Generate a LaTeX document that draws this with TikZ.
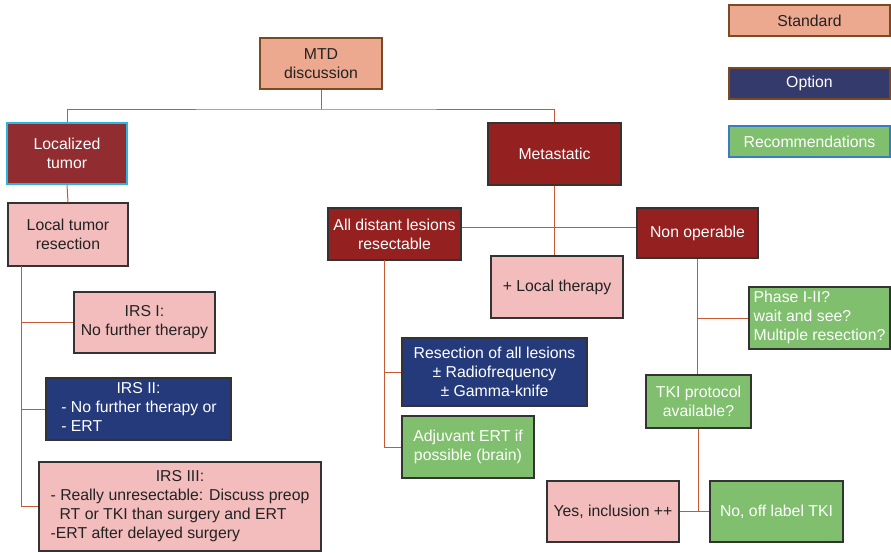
\documentclass[tikz,border=0pt]{standalone}
\usepackage{fontspec}
\setmainfont{Liberation Sans}
\definecolor{salmon}{HTML}{EDA98F}
\definecolor{pinkbox}{HTML}{F4BDBD}
\definecolor{darkred}{HTML}{952020}
\definecolor{locred}{HTML}{912D31}
\definecolor{navy}{HTML}{253A7A}
\definecolor{legnavy}{HTML}{353A6D}
\definecolor{greenbox}{HTML}{80BF6E}
\definecolor{boxline}{HTML}{333333}
\definecolor{brownline}{HTML}{7A4B22}
\definecolor{cyanline}{HTML}{2BB5E3}
\definecolor{blueline}{HTML}{3A7CC4}
\definecolor{connector}{HTML}{C65A33}
\definecolor{txtdark}{HTML}{222222}
\begin{document}
\begin{tikzpicture}[x=1pt,y=-1pt,
  font=\fontsize{15.8}{19}\selectfont,
  base/.style={draw=boxline, line width=1.2pt, inner sep=0pt, align=center},
  stdbox/.style={base, fill=salmon, draw=brownline, text=txtdark},
  pinkb/.style={base, fill=pinkbox, text=txtdark},
  redb/.style={base, fill=darkred, text=white},
  navyb/.style={base, fill=navy, text=white},
  greenb/.style={base, fill=greenbox, text=white},
  conn/.style={draw=connector, line width=1pt}]
\useasboundingbox (0,0) rectangle (891,552);
% legend
\node[stdbox, minimum width=161, minimum height=31] (lstd) at (809.5,20.5) {Standard};
\node[base, fill=legnavy, draw=brownline, text=white, minimum width=161, minimum height=31] (lopt) at (809.5,83.5) {Option};
\node[greenb, draw=blueline, minimum width=161, minimum height=31] (lrec) at (809.5,141.5) {Recommendations};
% main nodes
\node[stdbox, minimum width=122, minimum height=51] (mtd) at (321,63.5) {MTD\\discussion};
\node[base, fill=locred, draw=cyanline, line width=1.5pt, text=white, minimum width=120, minimum height=61] (loc) at (67,153.5) {Localized\\tumor};
\node[pinkb, minimum width=120, minimum height=63] (ltr) at (68,234.5) {Local tumor\\resection};
\node[pinkb, minimum width=141, minimum height=61] (irs1) at (144.5,322.5) {IRS I:\\No further therapy};
\node[navyb, minimum width=185, minimum height=62] (irs2) at (138.5,409) {\begin{tabular}{@{}l@{}}\multicolumn{1}{@{}c@{}}{IRS II:}\\\hspace{1pt}- No further therapy or\\\hspace{1pt}- ERT\end{tabular}};
\node[pinkb, minimum width=282, minimum height=89] (irs3) at (180,506.5) {\raisebox{-3pt}{\begin{tabular}{@{}l@{}}\multicolumn{1}{@{}c@{}}{IRS III:}\\- Really unresectable: Discuss preop\\\hspace{9pt}RT or TKI than surgery and ERT\\-ERT after delayed surgery\end{tabular}}};
\node[redb, minimum width=133, minimum height=62] (met) at (554.5,154) {Metastatic};
\node[redb, minimum width=133, minimum height=52] (all) at (394.5,234) {All distant lesions\\resectable};
\node[redb, minimum width=121, minimum height=50] (non) at (697.5,233) {Non operable};
\node[pinkb, minimum width=132, minimum height=62] (lth) at (557,287) {+ Local therapy};
\node[greenb, minimum width=141, minimum height=62] (ph) at (819.5,318) {\begin{tabular}{@{}l@{}}Phase I-II?\\wait and see?\\Multiple resection?\end{tabular}};
\node[navyb, minimum width=185, minimum height=68] (res) at (494.5,372) {Resection of all lesions\\± Radiofrequency\\± Gamma-knife};
\node[greenb, minimum width=132, minimum height=62] (adj) at (468,447) {Adjuvant ERT if\\possible (brain)};
\node[greenb, minimum width=105, minimum height=53] (tki) at (698.5,401.5) {TKI protocol\\available?};
\node[pinkb, minimum width=132, minimum height=61] (yes) at (613,511.5) {Yes, inclusion ++};
\node[greenb, minimum width=133, minimum height=61] (no) at (776.5,511.5) {No, off label TKI};
% connector helper coordinates
\coordinate (bus) at (321,109);
\coordinate (spl) at (21,266);
\coordinate (hl) at (554,227);
\coordinate (spa) at (384,260);
% connectors
\draw[conn] (mtd.south) -- (bus);
\draw[conn] (loc.north) |- (bus) -| (met.north);
\draw[conn] (loc.south) -- (ltr.north);
\draw[conn] (spl) |- (irs3.west);
\draw[conn] (spl |- irs1.west) -- (irs1.west);
\draw[conn] (spl |- irs2.west) -- (irs2.west);
\draw[conn] (met.south) -- (met.south |- lth.north);
\draw[conn] (all.east |- hl) -- (non.west |- hl);
\draw[conn] (spa) |- (adj.west);
\draw[conn] (spa |- res.west) -- (res.west);
\draw[conn] (non.south) -- (non.south |- tki.north);
\draw[conn] (non.south |- ph.west) -- (ph.west);
\draw[conn] (tki.south) -- (tki.south |- yes.east);
\draw[conn] (yes.east) -- (no.west);
\end{tikzpicture}
\end{document}
